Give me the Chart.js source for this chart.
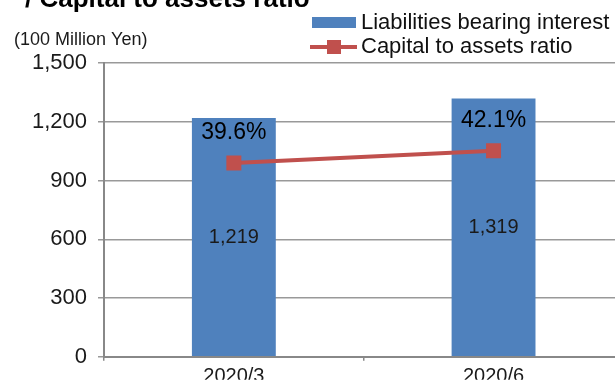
<!DOCTYPE html>
<html>
<head>
<meta charset="utf-8">
<script src="https://cdn.jsdelivr.net/npm/chart.js@4.4.1/dist/chart.umd.min.js"></script>
<style>
  html, body { margin: 0; padding: 0; background: #fff; }
  #wrap { position: relative; width: 615px; height: 381px; overflow: hidden; }
  #chart { position: absolute; left: 0; top: 0; }
</style>
</head>
<body>
<div id="wrap">
  <canvas id="chart" width="634" height="381"></canvas>
</div>
<script>
const periods = ['2020/3', '2020/6'];
const liabilities = [1219, 1319];       // 100 million yen
const capitalRatio = [39.6, 42.1];      // %
const yTicks = [0, 300, 600, 900, 1200, 1500];
const seriesNames = ['Liabilities bearing interest', 'Capital to assets ratio'];
const titleText = '/ Capital to assets ratio';
const unitText = '(100 Million Yen)';

const BLUE = '#4F81BD';
const RED = '#C0504D';
const FONT = "'Liberation Sans', Arial, sans-serif";

// title, unit and legend drawn straight on the canvas
const headerPlugin = {
    id: 'header',
    afterDraw(chart) {
        const ctx = chart.ctx;
        ctx.save();
        ctx.fillStyle = '#000';
        ctx.textAlign = 'left';
        ctx.textBaseline = 'alphabetic';
        ctx.font = 'bold 26px ' + FONT;
        ctx.fillText(titleText, 25, 7);

        ctx.fillStyle = '#1a1a1a';
        ctx.font = '18px ' + FONT;
        ctx.fillText(unitText, 14, 45);

        // legend: bar swatch
        ctx.fillStyle = BLUE;
        ctx.fillRect(312, 17, 44, 11);
        // legend: line with square marker
        ctx.strokeStyle = RED;
        ctx.lineWidth = 4;
        ctx.beginPath();
        ctx.moveTo(310, 47);
        ctx.lineTo(357, 47);
        ctx.stroke();
        ctx.fillStyle = RED;
        ctx.fillRect(327, 40, 14, 14);

        ctx.fillStyle = '#111';
        ctx.font = '22px ' + FONT;
        ctx.fillText(seriesNames[0], 361, 29);
        ctx.fillText(seriesNames[1], 361, 53);
        ctx.restore();
    }
};

// value labels on bars and ratio points
const valueLabels = {
    id: 'valueLabels',
    afterDatasetsDraw(chart) {
        const ctx = chart.ctx;
        ctx.save();
        ctx.textAlign = 'center';
        ctx.textBaseline = 'middle';

        const bars = chart.getDatasetMeta(1);
        ctx.fillStyle = '#1a1a1a';
        ctx.font = '20px ' + FONT;
        bars.data.forEach((bar, i) => {
            const y = (bar.y + bar.base) / 2;
            ctx.fillText(liabilities[i].toLocaleString('en-US'), bar.x, y);
        });

        const pts = chart.getDatasetMeta(0);
        ctx.fillStyle = '#000';
        ctx.font = '23px ' + FONT;
        pts.data.forEach((pt, i) => {
            ctx.fillText(capitalRatio[i].toFixed(1) + '%', pt.x, pt.y - 30);
        });
        ctx.restore();
    }
};

new Chart(document.getElementById('chart'), {
    data: {
        labels: periods,
        datasets: [
            {
                type: 'line',
                label: seriesNames[1],
                data: capitalRatio,
                yAxisID: 'y2',
                borderColor: RED,
                borderWidth: 4,
                pointStyle: 'rect',
                pointRadius: 10.6,
                pointBackgroundColor: RED,
                pointBorderWidth: 0,
                order: 1
            },
            {
                type: 'bar',
                label: seriesNames[0],
                data: liabilities,
                yAxisID: 'y',
                backgroundColor: BLUE,
                categoryPercentage: 1,
                barPercentage: 0.323,
                order: 2
            }
        ]
    },
    options: {
        responsive: false,
        animation: false,
        layout: { padding: { top: 63, left: 0, right: 0, bottom: 0 } },
        plugins: {
            legend: { display: false },
            tooltip: { enabled: false }
        },
        scales: {
            x: {
                offset: true,
                grid: {
                    offset: true,
                    drawOnChartArea: false,
                    tickLength: 4,
                    color: '#888',
                    lineWidth: 1.5
                },
                border: { color: '#888', width: 2 },
                ticks: {
                    color: '#1a1a1a',
                    font: { family: FONT, size: 20 },
                    padding: 4
                },
                afterFit(scale) { scale.height = 23; }
            },
            y: {
                min: yTicks[0],
                max: yTicks[yTicks.length - 1],
                afterBuildTicks(scale) {
                    scale.ticks = yTicks.map(v => ({ value: v }));
                },
                grid: {
                    color: '#999',
                    lineWidth: 1.5,
                    tickLength: 6
                },
                border: { color: '#888', width: 2 },
                ticks: {
                    color: '#1a1a1a',
                    font: { family: FONT, size: 22 },
                    padding: 11,
                    callback: v => v.toLocaleString('en-US')
                },
                afterFit(scale) { scale.width = 104; }
            },
            y2: {
                display: false,
                min: 0,
                max: 60
            }
        }
    },
    plugins: [headerPlugin, valueLabels]
});
</script>
</body>
</html>
